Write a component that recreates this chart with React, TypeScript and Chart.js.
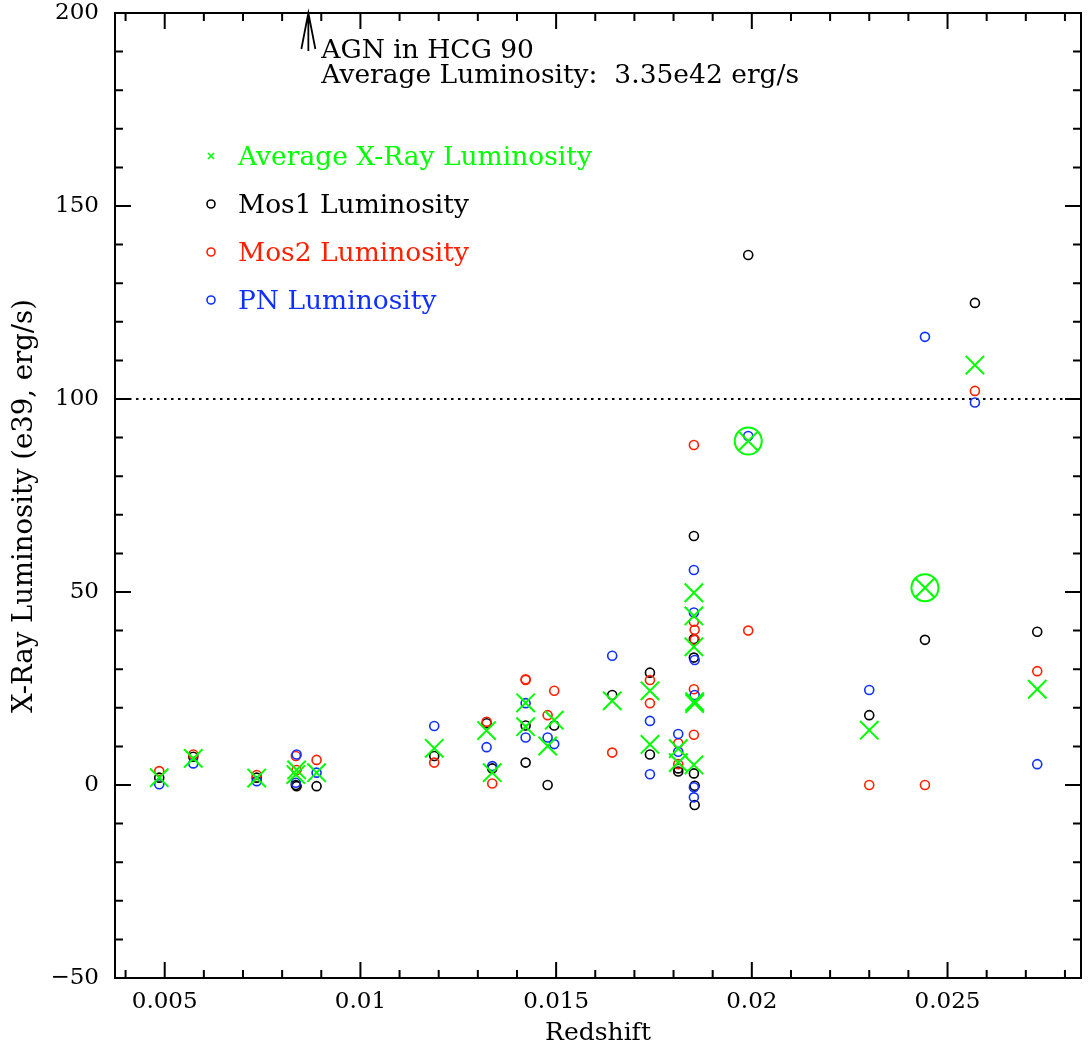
import { useEffect, useRef } from 'react';
import { Chart, registerables } from 'chart.js';

Chart.register(...registerables);

// One entry per galaxy
const redshift = [
  0.00486, 0.00573, 0.00735, 0.00837, 0.00835, 0.00888, 0.011886, 0.013224, 0.013368,
  0.014221, 0.014221, 0.014783, 0.014952, 0.016433, 0.017397, 0.017397, 0.01812, 0.01812,
  0.01852, 0.01852, 0.01852, 0.01854, 0.01854, 0.01852, 0.019908, 0.023, 0.024423, 0.0257, 0.027292,
];
const mos1Lum = [
  1.9, 7.3, 1.9, -0.3, 0.0, -0.3, 7.5, 16.0, 4.3,
  15.4, 5.8, 0.0, 15.4, 23.3, 29.1, 7.9, 4.3, 3.5,
  64.5, 33.0, 37.8, -0.2, -5.2, 3.0, 137.3, 18.1, 37.6, 124.9, 39.7,
];
const mos2Lum = [
  3.6, 7.9, 2.6, 3.9, 7.5, 6.5, 5.8, 16.4, 0.4,
  27.4, 27.2, 18.1, 24.4, 8.4, 27.2, 21.2, 10.8, 5.4,
  88.1, 42.3, 24.8, 40.2, 37.6, 13.0, 40.0, 0.0, 0.0, 102.1, 29.5,
];
const pnLum = [
  0.2, 5.6, 1.0, 7.9, 0.6, 3.2, 15.3, 9.8, 4.9,
  21.2, 12.3, 12.3, 10.6, 33.5, 16.6, 2.8, 13.2, 8.6,
  -3.2, 55.7, 44.7, 23.3, 32.4, -0.6, 90.4, 24.6, 116.1, 99.1, 5.4,
];
const avgLum = [
  1.9, 6.9, 1.8, 3.9, 2.7, 3.2, 9.5, 14.1, 3.2,
  21.3, 15.1, 10.1, 16.8, 21.8, 24.4, 10.5, 9.4, 5.8,
  49.8, 43.8, 35.8, 21.1, 21.6, 5.2, 89.1, 14.2, 51.1, 108.8, 24.8,
];
const circledGalaxies = [24, 26];

const seriesLabels = ['Average X-Ray Luminosity', 'Mos1 Luminosity', 'Mos2 Luminosity', 'PN Luminosity'];
const xTickValues = [0.005, 0.01, 0.015, 0.02, 0.025];
const yTickValues = [-50, 0, 50, 100, 150, 200];
const xRange = [0.00373, 0.02841];
const yRange = [-50, 200];
const referenceLevel = 100;
const agnRedshift = 0.00867;
const agnText = ['AGN in HCG 90', 'Average Luminosity:  3.35e42 erg/s'];
const xTitle = 'Redshift';
const yTitle = 'X-Ray Luminosity (e39, erg/s)';

const GREEN = '#00ff00';
const BLACK = '#000000';
const RED = '#ff2000';
const BLUE = '#1030ff';
const FONT = '"DejaVu Serif"';

const pts = (vals: number[]) => vals.map((v, i) => ({ x: redshift[i], y: v }));

const zeroPad = (s: any) => {
  s.paddingLeft = 0;
  s.paddingRight = 0;
  s.paddingTop = 0;
  s.paddingBottom = 0;
};

const decorPlugin = {
  id: 'decor',
  beforeDatasetsDraw(chart: any) {
    const { ctx, chartArea: a, scales } = chart;
    const y = scales.y.getPixelForValue(referenceLevel);
    ctx.save();
    ctx.strokeStyle = BLACK;
    ctx.lineWidth = 2;
    ctx.setLineDash([2.5, 4.5]);
    ctx.beginPath();
    ctx.moveTo(a.left, y);
    ctx.lineTo(a.right, y);
    ctx.stroke();
    ctx.restore();
  },
  afterDraw(chart: any) {
    const { ctx, chartArea: a, scales } = chart;
    const xs = scales.x;
    const ys = scales.y;
    ctx.save();
    ctx.strokeStyle = BLACK;
    ctx.lineWidth = 2;
    ctx.strokeRect(a.left, a.top, a.right - a.left, a.bottom - a.top);
    for (let i = 1; i <= 30; i++) {
      const v = i / 1000;
      const px = xs.getPixelForValue(v);
      if (px <= a.left + 1 || px >= a.right - 1) continue;
      const len = i % 5 === 0 ? 16 : 8;
      ctx.beginPath();
      ctx.moveTo(px, a.bottom);
      ctx.lineTo(px, a.bottom - len);
      ctx.moveTo(px, a.top);
      ctx.lineTo(px, a.top + len);
      ctx.stroke();
    }
    for (let v = yRange[0]; v <= yRange[1]; v += 10) {
      const py = ys.getPixelForValue(v);
      if (py <= a.top + 1 || py >= a.bottom - 1) continue;
      const len = v % 50 === 0 ? 16 : 8;
      ctx.beginPath();
      ctx.moveTo(a.left, py);
      ctx.lineTo(a.left + len, py);
      ctx.moveTo(a.right, py);
      ctx.lineTo(a.right - len, py);
      ctx.stroke();
    }
    // AGN arrow
    const ax = xs.getPixelForValue(agnRedshift);
    ctx.lineWidth = 1.8;
    ctx.beginPath();
    ctx.moveTo(ax, a.top);
    ctx.lineTo(ax, a.top + 38);
    ctx.moveTo(ax - 7, a.top + 36);
    ctx.lineTo(ax, a.top);
    ctx.lineTo(ax + 7, a.top + 36);
    ctx.stroke();
    ctx.fillStyle = BLACK;
    ctx.font = `26.5px ${FONT}`;
    ctx.textAlign = 'left';
    ctx.textBaseline = 'alphabetic';
    ctx.fillText(agnText[0], ax + 13, 58);
    ctx.fillText(agnText[1], ax + 13, 83);

    // legend
    const ds = chart.data.datasets;
    for (let i = 0; i < 4; i++) {
      const cy = 156 + i * 48;
      const col = ds[i].borderColor;
      ctx.strokeStyle = col;
      ctx.lineWidth = 1.6;
      ctx.beginPath();
      if (i === 0) {
        ctx.moveTo(208, cy - 3);
        ctx.lineTo(214, cy + 3);
        ctx.moveTo(214, cy - 3);
        ctx.lineTo(208, cy + 3);
      } else {
        ctx.arc(211, cy, 4, 0, Math.PI * 2);
      }
      ctx.stroke();
      ctx.fillStyle = col;
      ctx.fillText(ds[i].label, 238, cy + 9);
    }

    // axis titles
    ctx.fillStyle = BLACK;
    ctx.textAlign = 'center';
    ctx.font = `25px ${FONT}`;
    ctx.fillText(xTitle, 598, 1040);
    ctx.font = `27.5px ${FONT}`;
    ctx.translate(32, 506);
    ctx.rotate(-Math.PI / 2);
    ctx.fillText(yTitle, 0, 0);
    ctx.restore();
  },
};

export default function App() {
  const ref = useRef<HTMLCanvasElement>(null);
  useEffect(() => {
    if (!ref.current) return;
    const chart = new Chart(ref.current, {
      type: 'scatter',
      data: {
        datasets: [
          {
            label: seriesLabels[0],
            data: pts(avgLum),
            borderColor: GREEN,
            backgroundColor: 'transparent',
            pointStyle: 'crossRot',
            pointRadius: 13,
            borderWidth: 2,
            order: 0,
          },
          {
            label: seriesLabels[1],
            data: pts(mos1Lum),
            borderColor: BLACK,
            backgroundColor: 'transparent',
            pointStyle: 'circle',
            pointRadius: 4.5,
            borderWidth: 1.6,
            order: 3,
          },
          {
            label: seriesLabels[2],
            data: pts(mos2Lum),
            borderColor: RED,
            backgroundColor: 'transparent',
            pointStyle: 'circle',
            pointRadius: 4.5,
            borderWidth: 1.6,
            order: 2,
          },
          {
            label: seriesLabels[3],
            data: pts(pnLum),
            borderColor: BLUE,
            backgroundColor: 'transparent',
            pointStyle: 'circle',
            pointRadius: 4.5,
            borderWidth: 1.6,
            order: 1,
          },
          {
            label: 'circled',
            data: circledGalaxies.map((i) => ({ x: redshift[i], y: avgLum[i] })),
            borderColor: GREEN,
            backgroundColor: 'transparent',
            pointStyle: 'circle',
            pointRadius: 13.5,
            borderWidth: 2,
            order: 0,
          },
        ],
      },
      options: {
        animation: false,
        responsive: false,
        events: [],
        layout: { autoPadding: false, padding: { top: 13, right: 7, left: 0, bottom: 0 } },
        plugins: { legend: { display: false }, tooltip: { enabled: false }, title: { display: false } },
        scales: {
          x: {
            type: 'linear',
            min: xRange[0],
            max: xRange[1],
            grid: { display: false, drawTicks: false },
            border: { display: false },
            afterFit: (s: any) => {
              s.height = 70;
              zeroPad(s);
            },
            afterBuildTicks: (s: any) => {
              s.ticks = xTickValues.map((v) => ({ value: v }));
            },
            ticks: {
              color: BLACK,
              font: { family: FONT, size: 23 },
              padding: 10,
              maxRotation: 0,
              callback: (v: any) => String(v),
            },
          },
          y: {
            type: 'linear',
            min: yRange[0],
            max: yRange[1],
            grid: { display: false, drawTicks: false },
            border: { display: false },
            afterFit: (s: any) => {
              s.width = 115;
              zeroPad(s);
            },
            afterBuildTicks: (s: any) => {
              s.ticks = yTickValues.map((v) => ({ value: v }));
            },
            ticks: {
              color: BLACK,
              font: { family: FONT, size: 23 },
              padding: 16,
              callback: (v: any) => String(v).replace('-', '\u2212'),
            },
          },
        },
      },
      plugins: [decorPlugin],
    });
    return () => chart.destroy();
  }, []);
  return (
    <div style={{ position: 'absolute', left: 0, top: 0, width: 1088, height: 1048, background: '#fff', overflow: 'hidden' }}>
      <canvas ref={ref} width={1088} height={1048} style={{ display: 'block' }} />
    </div>
  );
}
